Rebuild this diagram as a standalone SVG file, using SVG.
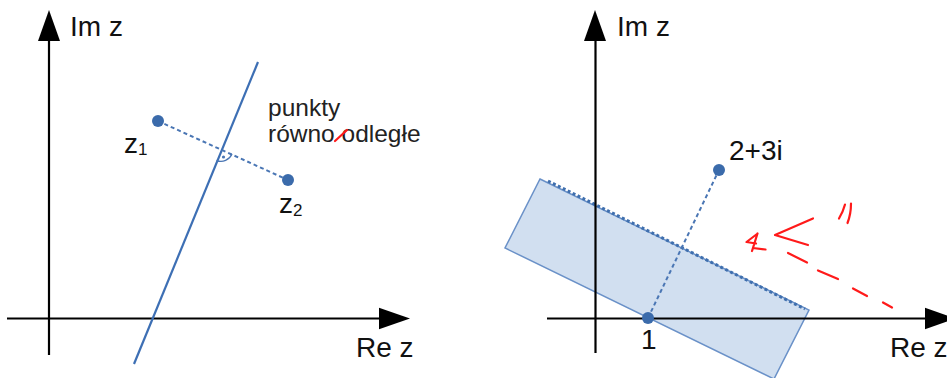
<svg xmlns="http://www.w3.org/2000/svg" width="947" height="378" viewBox="0 0 947 378">
<style>
.ax{stroke:#000;stroke-width:2.2;fill:none}
.ah{fill:#000}
.lbl{font-family:"Liberation Sans",Arial,sans-serif;font-size:28px;fill:#111}
.sub{font-family:"Liberation Sans",Arial,sans-serif;font-size:17px;fill:#111}
.txt{font-family:"Liberation Sans",Arial,sans-serif;font-size:24.5px;fill:#222}
.pt{fill:#3b6bab}
.bl{stroke:#3d6fb4;stroke-width:2.2;fill:none}
.dot{stroke:#4a76b4;stroke-width:2;stroke-dasharray:4 3;fill:none}
.red{stroke:#ff1a1a;stroke-width:2.2;fill:none;stroke-linecap:round;stroke-linejoin:round}
</style>
<rect width="947" height="378" fill="#fff"/>
<g id="left-axes">
<line class="ax" x1="49" y1="355" x2="49" y2="38"/>
<polygon class="ah" points="49,10 38,41 60,41"/>
<text class="lbl" x="70" y="36">Im z</text>
<line class="ax" x1="7" y1="318.5" x2="382" y2="318.5"/>
<polygon class="ah" points="410,318.5 379,307.8 379,329.2"/>
<text class="lbl" x="356" y="357">Re z</text>
</g>
<g id="connectors">
<line class="bl" x1="258" y1="62" x2="134" y2="364"/>
<line class="dot" x1="158" y1="121" x2="288" y2="180"/>
<path d="M216.5,160.5 A12,12 0 0 0 232,154" stroke="#4a76b4" stroke-width="1.4" fill="none"/>
<circle cx="223.5" cy="157" r="1.6" fill="#4a76b4"/>
</g>
<g id="z1">
<circle class="pt" cx="158" cy="121" r="6"/>
<text class="lbl" x="124" y="153">z<tspan class="sub" dy="2">1</tspan></text>
</g>
<g id="z2">
<circle class="pt" cx="288" cy="180" r="6"/>
<text class="lbl" x="279" y="213">z<tspan class="sub" dy="3">2</tspan></text>
</g>
<g id="label-rowno">
<text class="txt" x="268" y="116">punkty</text>
<text class="txt" x="268" y="142">równo odległe</text>
<line class="red" x1="335" y1="141" x2="347" y2="130"/>
</g>
<g id="right-region">
<polygon points="540,179 809,310 774,379 505,248" fill="#d1dff0" stroke="#6a91c8" stroke-width="1.5"/>
<line x1="548" y1="181" x2="805" y2="309" stroke="#3f6fae" stroke-width="3" stroke-dasharray="3 2.5"/>
</g>
<g id="right-axes">
<line class="ax" x1="595.5" y1="353" x2="595.5" y2="38"/>
<polygon class="ah" points="595,10 584,41 606,41"/>
<text class="lbl" x="617" y="36">Im z</text>
<line class="ax" x1="547" y1="318.5" x2="928" y2="318.5"/>
<polygon class="ah" points="956,318.5 925,307.8 925,329.2"/>
<text class="lbl" x="890" y="357">Re z</text>
</g>
<g id="right-connectors">
<line class="dot" x1="648" y1="318" x2="719" y2="170"/>
</g>
<g id="p1">
<circle class="pt" cx="648" cy="318" r="6"/>
<text class="lbl" x="641" y="349">1</text>
</g>
<g id="p2">
<circle class="pt" cx="719" cy="170" r="6"/>
<text class="lbl" x="729" y="160">2+3i</text>
</g>
<g id="red-notes">
<path class="red" d="M757,234 L746.5,242 L756,243.5 M757.5,233.5 L752,251 M753,248 L765.5,249.5"/>
<path class="red" d="M813,218.5 L775,235 L808,245" stroke-width="3.2"/>
<path class="red" d="M845,204.5 Q843,212 839,218.5 M851,203.5 Q851,214 847.5,223"/>
<path class="red" d="M788,253 L807,262.5 M818,270.5 L838,279 M853,288.5 L867,296 M883,302.5 L892,307.5" stroke-width="2.8"/>
</g>
</svg>
